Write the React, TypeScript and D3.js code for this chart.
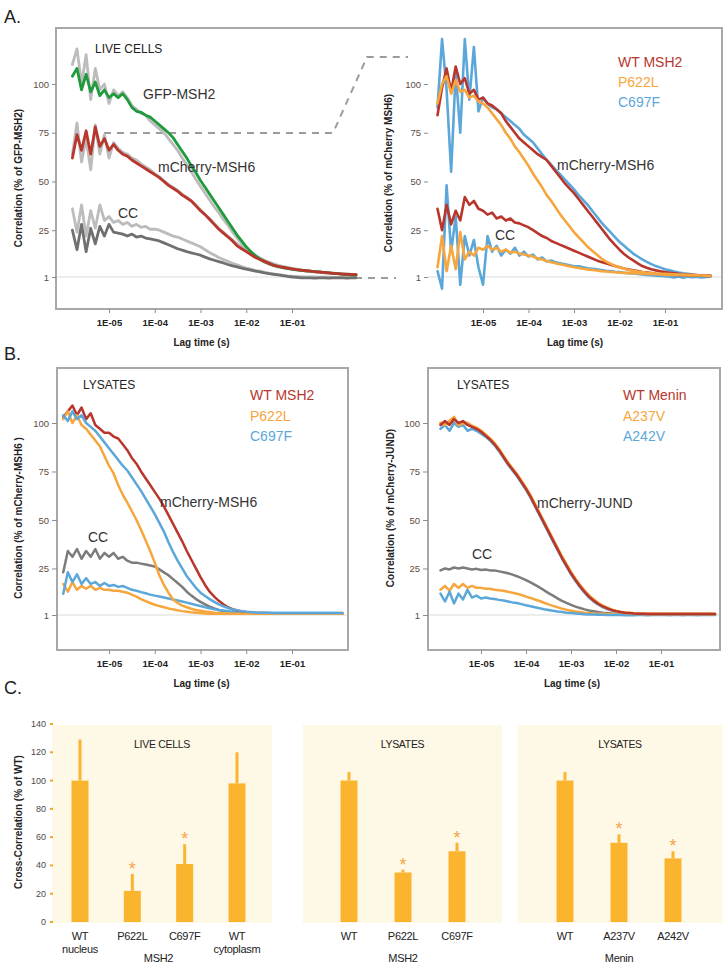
import { useEffect, useRef } from 'react';
import * as d3 from 'd3';

const NARROW = "'Liberation Sans Narrow', 'Liberation Sans', Arial, sans-serif";
const SANS = "'Liberation Sans', Arial, sans-serif";

const RED = '#b8362c';
const ORANGE = '#f6a63d';
const BLUE = '#5ca7da';
const GREEN = '#1f9a3d';
const DARK_GRAY = '#707070';
const LIGHT_GRAY = '#bcbcbc';
const BAR = '#fbb42e';
const STAR = '#f5a54a';

// correlator lag channels, log10(seconds)
const LAG_EXP = [
  -6.0, -5.9, -5.8, -5.7, -5.6, -5.5, -5.4, -5.3, -5.2, -5.1,
  -5.0, -4.9, -4.8, -4.7, -4.6, -4.5, -4.4, -4.3, -4.2, -4.1,
  -4.0, -3.9, -3.8, -3.7, -3.6, -3.5, -3.4, -3.3, -3.2, -3.1,
  -3.0, -2.9, -2.8, -2.7, -2.6, -2.5, -2.4, -2.3, -2.2, -2.1,
  -2.0, -1.9, -1.8, -1.7, -1.6, -1.5, -1.4, -1.3, -1.2, -1.1,
  -1.0, -0.9, -0.8, -0.7, -0.6, -0.5, -0.4, -0.3, -0.2, -0.1,
  0.0, 0.1, 0.2, 0.3, 0.4,
];
const LAG_TICKS = [1e-5, 1e-4, 1e-3, 1e-2, 1e-1];
const LAG_TICK_LABELS = ['1E-05', '1E-04', '1E-03', '1E-02', '1E-01'];
const CORR_TICKS = [1, 25, 50, 75, 100];

// A, live cells, overview (from 10^-5.8 s)
const GFP_MSH2_LIVE = [
  104, 108, 97, 105, 96, 101, 94, 97, 93, 95,
  93, 95, 92, 88, 86, 85.5, 84, 83, 81, 79,
  77, 75, 72.5, 69, 65.5, 62, 58, 54.5, 50.5, 47,
  43.5, 40, 36.5, 33, 29.5, 26, 22.5, 19.5, 16.5, 14,
  12, 10.2, 8.8, 7.8, 7, 6.3, 5.8, 5.4, 5, 4.7,
  4.4, 4.2, 4, 3.8, 3.6, 3.3, 3.1, 2.9, 2.7, 2.5,
  2.3, 2.1, 2,
];
const GFP_MSH2_LIVE_REP = [
  110, 118, 100, 115, 92, 108, 97, 100, 90, 97,
  94, 96, 93, 89, 87, 85, 84, 81, 79, 77,
  75, 72, 69, 66, 62, 58.5, 55, 51, 47.5, 44,
  40.5, 37, 34, 30.5, 27.5, 24, 21, 18, 15.5, 13.5,
  11.5, 10, 8.6, 7.6, 6.8, 6.2, 5.7, 5.3, 4.9, 4.6,
  4.3, 4.1, 3.9, 3.7, 3.5, 3.3, 3.1, 2.9, 2.7, 2.5,
  2.3, 2.1, 2,
];
const MSH6_LIVE = [
  62, 74, 66, 76, 64, 78, 68, 72, 66, 69,
  66, 64, 63, 61, 59.5, 58, 56.5, 55, 53.5, 52,
  50, 48, 46.5, 45, 43, 41.5, 40, 37.5, 35, 33,
  30.5, 28, 25.5, 23.5, 21.5, 19.5, 17, 15.5, 14, 12.5,
  11, 10, 9, 8, 7, 6.5, 6, 5.6, 5.2, 4.8,
  4.5, 4.2, 4, 3.7, 3.5, 3.3, 3.1, 2.9, 2.7, 2.5,
  2.4, 2.3, 2.2,
];
const MSH6_LIVE_REP = [
  64, 80, 60, 72, 56, 79, 64, 74, 62, 70,
  67, 65, 64, 62, 61, 59, 57.5, 56, 54, 52.5,
  50.5, 48.5, 47, 45.5, 43.5, 42, 40, 38, 35.5, 33,
  31, 28.5, 26, 24, 22, 20, 18, 16.5, 15, 13.5,
  12, 10.8, 9.6, 8.6, 7.8, 7, 6.4, 5.9, 5.4, 5,
  4.6, 4.3, 4, 3.8, 3.6, 3.4, 3.2, 3, 2.8, 2.6,
  2.4, 2.3, 2.2,
];
const CC_LIVE = [
  25, 15, 28, 14, 26, 18, 27, 22, 28, 24,
  23.5, 23, 22, 23, 21.5, 22, 21, 20.5, 20, 19.5,
  18.5, 17.5, 16.5, 15.5, 14.8, 14, 13.4, 12.8, 12.2, 11.2,
  10.3, 9.6, 8.9, 8.2, 7.4, 6.7, 6.2, 5.6, 5, 4.5,
  4, 3.6, 3.1, 2.7, 2.4, 2.1, 1.7, 1.3, 1, 0.8,
  0.6, 0.5, 0.6, 0.4, 0.5, 0.6, 0.4, 0.5, 0.6, 0.5,
  0.4, 0.5, 0.6,
];
const CC_LIVE_REP = [
  36, 24, 38, 22, 35, 26, 38, 30, 32, 29,
  30, 28, 29, 27, 28, 26.5, 27, 25.5, 25.5, 25,
  24, 23, 22, 21.5, 20.5, 19.5, 18.5, 17.5, 16.5, 15,
  13.5, 12.3, 11, 10, 9, 8, 7.2, 6.3, 5.6, 5,
  4.4, 4, 3.4, 3, 2.6, 2.2, 1.9, 1.6, 1.4, 1.3,
  1.2, 1.1, 1, 1, 0.9, 1, 0.9, 0.8, 0.9, 0.8,
  0.8, 0.9, 0.8,
];

// A, live cells, MSH2 variants (from 10^-6.0 s)
const MSH6_WT_LIVE = [
  84, 98, 108, 96, 109, 100, 103, 95, 97, 92,
  93, 90, 89, 87, 85, 81, 78, 75, 72, 70,
  68, 66, 64, 62.5, 61, 58, 55, 52, 49, 46.5,
  44, 41, 38, 35, 32, 29, 26, 23, 20, 17.5,
  15, 12.8, 11, 9.5, 8, 6.6, 5.7, 5, 4.4, 3.9,
  3.5, 3.2, 2.9, 2.6, 2.4, 2.3, 2.1, 2, 1.8, 1.7,
  1.6,
];
const MSH6_P622L_LIVE = [
  90, 100, 104, 95, 102, 96, 97, 93, 94, 91,
  90, 88, 85, 82, 79, 75, 72, 68, 65, 61.5,
  58, 54, 50.5, 47, 43, 40, 36.5, 33, 30, 27,
  24, 21.5, 19, 16.5, 14.5, 12.5, 10.5, 9, 7.8, 6.8,
  6, 5.2, 4.6, 4.2, 3.8, 3.5, 3.2, 3, 2.8, 2.7,
  2.6, 2.5, 2.4, 2.3, 2.2, 2.1, 2, 1.9, 1.8, 1.7,
  1.6,
];
const MSH6_C697F_LIVE = [
  88, 123, 97, 55, 106, 75, 123, 92, 119, 86,
  93, 90, 88, 87, 85, 83, 81, 79, 77, 74,
  72, 70, 67, 64, 61, 58.5, 56, 53.5, 51, 48.5,
  46, 43, 40.5, 38, 35, 32, 29, 26.5, 24, 21.5,
  19, 17, 15, 13, 11.5, 10, 8.8, 7.6, 6.6, 5.8,
  5, 4.4, 3.8, 3.3, 2.9, 2.6, 2.3, 2, 1.8, 1.7,
  1.6,
];
const CC_WT_LIVE = [
  36, 25, 38, 28, 35, 30, 42, 38, 40, 36,
  35, 33, 34, 31, 32, 30, 31, 29, 28.5, 27.5,
  26.5, 25, 23.5, 22, 21, 19.5, 18.5, 17.5, 16.5, 15.5,
  14.5, 13.5, 12.5, 11.5, 10.5, 9.5, 8.7, 8, 7.3, 6.6,
  6, 5.4, 4.9, 4.4, 4, 3.6, 3.3, 3, 2.7, 2.5,
  2.3, 2.2, 2.1, 2, 1.9, 1.8, 1.8, 1.7, 1.7, 1.6,
  1.6,
];
const CC_P622L_LIVE = [
  6, 22, 4, 17, 5, 24, 10, 14, 12, 16,
  15, 17, 15, 16, 14, 15, 13.5, 14, 13, 12.5,
  12, 11.5, 10.5, 10, 9.2, 8.6, 8, 7.5, 7, 6.5,
  6, 5.6, 5.2, 4.9, 4.6, 4.3, 4, 3.8, 3.6, 3.4,
  3.2, 3.1, 3, 2.9, 2.8, 2.7, 2.6, 2.5, 2.4, 2.3,
  2.2, 2.1, 2, 2, 1.9, 1.9, 1.8, 1.8, 1.7, 1.7,
  1.6,
];
const CC_C697F_LIVE = [
  4, -5, 48, 14, 32, -3, 22, 12, 20, 6,
  -3, 22, 14, 17, 12, 15, 13, 16, 12, 14,
  11.5, 12.5, 10, 11, 9, 9.5, 8.5, 8, 7.5, 7,
  6.5, 6.5, 6, 5.5, 5.2, 5, 4.6, 4.2, 4, 3.7,
  3.5, 3.2, 3, 2.8, 2.5, 2.3, 2.1, 1.9, 1.7, 1.6,
  1.4, 1.2, 0.8, 1.3, 0.6, 1.2, 0.9, 1.1, 0.7, 1,
  1.2,
];

// B, lysates, MSH2 variants (from 10^-6.0 s)
const MSH6_WT_LYS = [
  103, 106, 109, 104, 108, 102, 105, 99, 97, 95,
  95, 93, 92, 89, 86, 82, 79, 75, 71.5, 68,
  64.5, 61, 57, 52.5, 48, 43.5, 39, 34, 29.5, 25,
  20.5, 16.5, 13, 10.5, 8.3, 6.5, 5, 4, 3.3, 2.8,
  2.5, 2.3, 2.1, 2, 2, 1.9, 1.9, 1.9, 1.8, 1.8,
  1.8, 1.8, 1.8, 1.8, 1.8, 1.8, 1.8, 1.8, 1.8, 1.8,
  1.8, 1.8,
];
const MSH6_P622L_LYS = [
  102, 106, 100, 104, 99, 97, 94, 91, 88, 83,
  78, 74, 68, 63, 59, 54.5, 50, 45, 39.5, 34,
  28, 21.5, 16.5, 12.5, 9, 7.2, 5.8, 5, 4.2, 3.6,
  3.2, 2.8, 2.5, 2.2, 2, 1.9, 1.8, 1.7, 1.7, 1.6,
  1.6, 1.6, 1.6, 1.6, 1.6, 1.6, 1.6, 1.6, 1.6, 1.6,
  1.6, 1.6, 1.6, 1.6, 1.6, 1.6, 1.6, 1.6, 1.6, 1.6,
  1.6, 1.6,
];
const MSH6_C697F_LYS = [
  104, 101, 106, 102, 104, 100, 98, 96, 93, 90,
  87, 84, 81, 78, 75.5, 72, 68.5, 65, 61, 57,
  53, 48.5, 44, 38.5, 33.5, 29, 25, 21, 18, 15,
  12.5, 10.8, 9.2, 7.8, 6.5, 5.5, 4.6, 3.9, 3.4, 3,
  2.7, 2.5, 2.3, 2.2, 2.1, 2.1, 2, 2, 2, 2,
  2, 2, 2, 2, 2, 2, 2, 2, 2, 2,
  2, 2,
];
const CC_WT_LYS = [
  23, 34, 31, 35, 30, 34, 31, 35, 30, 33,
  31, 33, 30, 31, 29, 28, 28, 27.5, 27, 26.5,
  26, 24.5, 23, 21.5, 19.5, 17.5, 15.5, 13, 11, 9.2,
  7.8, 6.5, 5.3, 4.4, 3.6, 3, 2.6, 2.3, 2.1, 2,
  1.9, 1.9, 1.8, 1.8, 1.8, 1.8, 1.8, 1.8, 1.8, 1.8,
  1.8, 1.8, 1.8, 1.8, 1.8, 1.8, 1.8, 1.8, 1.8, 1.8,
  1.8, 1.8,
];
const CC_C697F_LYS = [
  12, 23, 18, 22, 17, 20, 17, 18, 16, 17.5,
  16, 16.5, 15.5, 16, 15, 14, 13.5, 12.8, 12.2, 11.5,
  11, 10.5, 10, 9.5, 9, 8.5, 8, 7.4, 6.8, 6.2,
  5.6, 5, 4.5, 4, 3.6, 3.3, 3, 2.7, 2.5, 2.3,
  2.2, 2.1, 2, 2, 2, 2, 2, 2, 2, 2,
  2, 2, 2, 2, 2, 2, 2, 2, 2, 2,
  2, 2,
];
const CC_P622L_LYS = [
  17, 13, 18, 14, 16, 14.5, 16, 14, 15, 14,
  14, 13.5, 13.5, 13, 12.5, 11.5, 10.5, 9.2, 8.2, 7.2,
  6.3, 5.6, 5, 4.4, 3.9, 3.4, 3, 2.7, 2.4, 2.2,
  2, 1.8, 1.7, 1.6, 1.6, 1.6, 1.6, 1.6, 1.6, 1.6,
  1.6, 1.6, 1.6, 1.6, 1.6, 1.6, 1.6, 1.6, 1.6, 1.6,
  1.6, 1.6, 1.6, 1.6, 1.6, 1.6, 1.6, 1.6, 1.6, 1.6,
  1.6, 1.6,
];

// B, lysates, Menin variants (from 10^-5.9 s)
const JUND_WT_LYS = [
  99, 101, 99, 102, 100, 101, 99, 98, 97, 95.5,
  93.5, 91.5, 89, 86, 82.5, 79, 76, 73, 69.5, 66,
  62, 57.5, 53, 48.5, 44, 39.5, 35, 30.5, 26.5, 22.5,
  19, 15.8, 13, 10.5, 8.5, 6.8, 5.5, 4.5, 3.6, 3,
  2.5, 2.2, 2, 1.8, 1.7, 1.6, 1.5, 1.5, 1.5, 1.5,
  1.5, 1.5, 1.5, 1.5, 1.5, 1.5, 1.5, 1.5, 1.5, 1.5,
  1.5, 1.5,
];
const JUND_A237V_LYS = [
  100, 99, 101, 103, 99, 100, 100, 98.5, 97.5, 96,
  94, 92, 89.5, 86.5, 83, 79.5, 76.5, 73.5, 70, 66.5,
  62.5, 58, 53.5, 49, 44.5, 40, 35.5, 31, 27, 23,
  19.5, 16.3, 13.5, 11, 9, 7.2, 5.8, 4.7, 3.8, 3.1,
  2.6, 2.2, 2, 1.8, 1.7, 1.6, 1.5, 1.5, 1.5, 1.5,
  1.5, 1.5, 1.5, 1.5, 1.5, 1.5, 1.5, 1.5, 1.5, 1.5,
  1.5, 1.5,
];
const JUND_A242V_LYS = [
  97, 99, 96, 100, 98, 99, 96, 97, 96, 94.5,
  93, 91, 88.5, 85.5, 82, 78.5, 75.5, 72.5, 69, 65.5,
  61.5, 57, 52.5, 48, 43.5, 39, 34.5, 30, 26, 22,
  18.5, 15.3, 12.5, 10, 8, 6.4, 5.1, 4.1, 3.3, 2.7,
  2.2, 1.9, 1.7, 1.5, 1.4, 1.3, 1.2, 1.2, 1.2, 1.1,
  1.1, 1.0, 1.2, 1.1, 1.0, 1.2, 1.1, 1.0, 1.1, 1.2,
  1.1, 1.1,
];
const CC_WT_MENIN = [
  24, 25, 24.5, 25.5, 25, 25.5, 25, 24.5, 24.8, 24.2,
  24.5, 24, 24, 23.5, 23, 22.5, 21.8, 21, 20, 19,
  17.8, 16.5, 15.2, 13.8, 12.3, 11, 9.6, 8.3, 7.2, 6.2,
  5.3, 4.6, 3.9, 3.3, 2.9, 2.5, 2.2, 2, 1.8, 1.7,
  1.6, 1.5, 1.5, 1.5, 1.5, 1.5, 1.5, 1.5, 1.5, 1.5,
  1.5, 1.5, 1.5, 1.5, 1.5, 1.5, 1.5, 1.5, 1.5, 1.5,
  1.5, 1.5,
];
const CC_A237V = [
  14, 16, 13.5, 17, 15, 17, 15, 16, 15, 15,
  14.5, 14.5, 14, 13.8, 13.5, 13, 12.5, 12, 11.3, 10.5,
  9.8, 9, 8.2, 7.3, 6.5, 5.7, 5, 4.3, 3.7, 3.2,
  2.8, 2.5, 2.2, 2, 1.8, 1.7, 1.6, 1.5, 1.5, 1.5,
  1.5, 1.5, 1.5, 1.5, 1.5, 1.5, 1.5, 1.5, 1.5, 1.5,
  1.5, 1.5, 1.5, 1.5, 1.5, 1.5, 1.5, 1.5, 1.5, 1.5,
  1.5, 1.5,
];
const CC_A242V = [
  12, 8, 13, 7, 12, 9, 14, 10, 11, 9.5,
  10, 9.5, 9.2, 8.8, 8.5, 8, 7.5, 7.2, 6.6, 6,
  5.5, 5, 4.5, 4, 3.6, 3.2, 2.8, 2.5, 2.2, 2,
  1.8, 1.6, 1.4, 1.3, 1.2, 1.1, 1.1, 1, 1, 1,
  1, 0.9, 1, 0.9, 1, 1, 0.9, 1, 1, 1,
  1, 1, 1, 1, 1, 1, 1, 1, 1, 1,
  1, 1,
];

// C, cross-correlation amplitudes (% of WT)
const C_TICKS = [0, 20, 40, 60, 80, 100, 120, 140];
const LIVE_LABELS = [['WT', 'nucleus'], ['P622L'], ['C697F'], ['WT', 'cytoplasm']];
const LIVE_VALUES = [100, 22, 41, 98];
const LIVE_ERRORS = [29, 12, 14, 22];
const LIVE_SIG = [false, true, true, false];
const MSH2_LYS_LABELS = [['WT'], ['P622L'], ['C697F']];
const MSH2_LYS_VALUES = [100, 35, 50];
const MSH2_LYS_ERRORS = [6, 2, 6];
const MSH2_LYS_SIG = [false, true, true];
const MENIN_LYS_LABELS = [['WT'], ['A237V'], ['A242V']];
const MENIN_LYS_VALUES = [100, 56, 45];
const MENIN_LYS_ERRORS = [6, 6, 5];
const MENIN_LYS_SIG = [false, true, true];

type Curve = { values: number[]; start: number; color: string; width?: number };
type Note = { text: string; x: number; y: number; color?: string; size?: number };
type CorrPlot = {
  xRange: [number, number];
  yRange: [number, number];
  axisX: number;
  tick: number;
  bottom: number;
  base: [number, number];
  yTitle: string;
  yTitleAt: [number, number];
  curves: Curve[];
  notes: Note[];
};

function lagPoints(values: number[], start: number): [number, number][] {
  const i0 = LAG_EXP.findIndex((e) => Math.abs(e - start) < 1e-6);
  const pts: [number, number][] = [];
  values.forEach((v, i) => {
    const e = LAG_EXP[i0 + i];
    if (e !== undefined) pts.push([Math.pow(10, e), v]);
  });
  return pts;
}

function drawCorr(root: any, p: CorrPlot) {
  const x = d3.scaleLog().domain([1e-5, 1e-1]).range(p.xRange);
  const y = d3.scaleLinear().domain([1, 100]).range(p.yRange);
  const g = root.append('g');

  g.append('line')
    .attr('x1', p.base[0]).attr('x2', p.base[1])
    .attr('y1', y(1)).attr('y2', y(1))
    .attr('stroke', '#dcdcdc').attr('stroke-width', 1.2);

  const ya = g.append('g')
    .attr('transform', `translate(${p.axisX},0)`)
    .call(d3.axisLeft(y).tickValues(CORR_TICKS).tickSize(p.tick).tickPadding(3));
  ya.select('.domain').remove();
  ya.selectAll('line').attr('stroke', '#8c8c8c');
  ya.selectAll('text')
    .attr('font-family', NARROW).attr('font-size', 9.5).attr('fill', '#5d4c46');

  const xa = g.append('g')
    .attr('transform', `translate(0,${p.bottom})`)
    .call(
      d3.axisBottom(x)
        .tickValues(LAG_TICKS)
        .tickFormat((_: any, i: number) => LAG_TICK_LABELS[i])
        .tickSize(4)
        .tickPadding(6)
    );
  xa.select('.domain').remove();
  xa.selectAll('line').attr('stroke', '#8c8c8c');
  xa.selectAll('text')
    .attr('font-family', NARROW).attr('font-size', 9.5)
    .attr('font-weight', 'bold').attr('fill', '#222');

  g.append('text')
    .attr('x', x(1e-3) + 1).attr('y', p.bottom + 37)
    .attr('text-anchor', 'middle')
    .attr('font-family', NARROW).attr('font-size', 10).attr('font-weight', 'bold')
    .attr('fill', '#222')
    .text('Lag time (s)');

  g.append('text')
    .attr('transform', `translate(${p.yTitleAt[0]},${p.yTitleAt[1]}) rotate(-90)`)
    .attr('text-anchor', 'middle')
    .attr('font-family', NARROW).attr('font-size', 10).attr('font-weight', 'bold')
    .attr('fill', '#222')
    .text(p.yTitle);

  const line = d3.line<[number, number]>().x((d) => x(d[0])).y((d) => y(d[1]));
  p.curves.forEach((c) => {
    g.append('path')
      .attr('d', line(lagPoints(c.values, c.start)))
      .attr('fill', 'none')
      .attr('stroke', c.color)
      .attr('stroke-width', c.width ?? 2.5)
      .attr('stroke-linejoin', 'round')
      .attr('stroke-linecap', 'round');
  });

  p.notes.forEach((n) => {
    g.append('text')
      .attr('x', n.x).attr('y', n.y)
      .attr('font-family', SANS).attr('font-size', n.size ?? 14)
      .attr('fill', n.color ?? '#333')
      .text(n.text);
  });
}

type BarGroup = {
  title: string;
  labels: string[][];
  values: number[];
  errors: number[];
  sig: boolean[];
  gene: string;
  geneIdx: number[];
  bg: [number, number];
  span: [number, number];
};

function drawBars(root: any) {
  const y = d3.scaleLinear().domain([0, 140]).range([922, 724]);
  const g = root.append('g');

  const groups: BarGroup[] = [
    { title: 'LIVE CELLS', labels: LIVE_LABELS, values: LIVE_VALUES, errors: LIVE_ERRORS, sig: LIVE_SIG, gene: 'MSH2', geneIdx: [1, 2], bg: [52, 272], span: [80, 237] },
    { title: 'LYSATES', labels: MSH2_LYS_LABELS, values: MSH2_LYS_VALUES, errors: MSH2_LYS_ERRORS, sig: MSH2_LYS_SIG, gene: 'MSH2', geneIdx: [1], bg: [303, 502], span: [349, 457] },
    { title: 'LYSATES', labels: MENIN_LYS_LABELS, values: MENIN_LYS_VALUES, errors: MENIN_LYS_ERRORS, sig: MENIN_LYS_SIG, gene: 'Menin', geneIdx: [1], bg: [517, 723], span: [565, 673] },
  ];

  groups.forEach((grp) => {
    g.append('rect')
      .attr('x', grp.bg[0]).attr('y', y(140) + 1)
      .attr('width', grp.bg[1] - grp.bg[0]).attr('height', y(0) - y(140))
      .attr('fill', '#fef8e7');

    g.append('text')
      .attr('x', (grp.bg[0] + grp.bg[1]) / 2).attr('y', 748)
      .attr('text-anchor', 'middle')
      .attr('font-family', SANS).attr('font-size', 10.5).attr('letter-spacing', -0.3)
      .attr('fill', '#222')
      .text(grp.title);

    const keys = grp.labels.map((l) => l.join(' '));
    const x = d3.scalePoint<string>().domain(keys).range(grp.span);
    const bw = 17;

    keys.forEach((k, i) => {
      const cx = x(k) as number;
      const v = grp.values[i];
      const top = y(v + grp.errors[i]);
      g.append('line')
        .attr('x1', cx).attr('x2', cx)
        .attr('y1', y(v)).attr('y2', top)
        .attr('stroke', BAR).attr('stroke-width', 3);
      g.append('rect')
        .attr('x', cx - bw / 2).attr('y', y(v))
        .attr('width', bw).attr('height', y(0) - y(v))
        .attr('fill', BAR);
      if (grp.sig[i]) {
        g.append('text')
          .attr('x', cx).attr('y', top + 1)
          .attr('text-anchor', 'middle')
          .attr('font-family', SANS).attr('font-size', 18)
          .attr('fill', STAR)
          .text('*');
      }
      grp.labels[i].forEach((t, j) => {
        g.append('text')
          .attr('x', cx).attr('y', 940 + j * 13)
          .attr('text-anchor', 'middle')
          .attr('font-family', SANS).attr('font-size', 11)
          .attr('letter-spacing', -0.3)
          .attr('fill', '#222')
          .text(t);
      });
    });

    const gx = d3.mean(grp.geneIdx, (i) => x(keys[i]) as number) as number;
    g.append('text')
      .attr('x', gx).attr('y', 962)
      .attr('text-anchor', 'middle')
      .attr('font-family', SANS).attr('font-size', 11)
      .attr('letter-spacing', -0.3)
      .attr('fill', '#222')
      .text(grp.gene);
  });

  // y axis
  const ax = g.append('g');
  C_TICKS.forEach((t) => {
    ax.append('rect')
      .attr('x', 50).attr('y', y(t) - 1)
      .attr('width', 3).attr('height', 2)
      .attr('fill', '#f5a623');
    ax.append('text')
      .attr('x', 46).attr('y', y(t))
      .attr('dy', '0.34em')
      .attr('text-anchor', 'end')
      .attr('font-family', NARROW).attr('font-size', 9)
      .attr('fill', '#4a4a4a')
      .text(t);
  });
  ax.append('text')
    .attr('transform', `translate(22,${822}) rotate(-90)`)
    .attr('text-anchor', 'middle')
    .attr('font-family', NARROW).attr('font-size', 10).attr('font-weight', 'bold')
    .attr('fill', '#222')
    .text('Cross-Correlation (% of WT)');
}

export default function App() {
  const ref = useRef<SVGSVGElement>(null);

  useEffect(() => {
    const svg = d3.select(ref.current);
    svg.selectAll('*').remove();

    // panel letters
    [['A.', 23], ['B.', 360], ['C.', 694]].forEach(([t, yy]) => {
      svg.append('text')
        .attr('x', 4).attr('y', yy as number)
        .attr('font-family', SANS).attr('font-size', 18)
        .attr('fill', '#222')
        .text(t as string);
    });

    // frames
    const frames = [
      [56, 28, 666, 281],
      [57, 368, 291, 282],
      [428, 368, 292, 282],
    ];
    frames.forEach(([fx, fy, fw, fh]) => {
      svg.append('rect')
        .attr('x', fx).attr('y', fy).attr('width', fw).attr('height', fh)
        .attr('fill', 'none').attr('stroke', '#a8a8a8').attr('stroke-width', 2);
    });

    const A_Y: [number, number] = [277, 84];
    const B_Y: [number, number] = [615, 423];

    // zoom guide between the two live-cell plots
    const guide = svg.append('g')
      .attr('fill', 'none').attr('stroke', '#9c9c9c')
      .attr('stroke-width', 2).attr('stroke-dasharray', '7,6');
    guide.append('path').attr('d', 'M104,133 L333,133 L367,57 L408,57');
    guide.append('path').attr('d', 'M355,278 L396,278');

    drawCorr(svg, {
      xRange: [109, 292], yRange: A_Y, axisX: 56, tick: 4, bottom: 309,
      base: [57, 355],
      yTitle: 'Correlation (% of GFP-MSH2)', yTitleAt: [22, 178],
      curves: [
        { values: CC_LIVE_REP, start: -5.8, color: LIGHT_GRAY, width: 2.8 },
        { values: GFP_MSH2_LIVE_REP, start: -5.8, color: LIGHT_GRAY, width: 2.8 },
        { values: MSH6_LIVE_REP, start: -5.8, color: LIGHT_GRAY, width: 2.8 },
        { values: CC_LIVE, start: -5.8, color: DARK_GRAY, width: 2.8 },
        { values: GFP_MSH2_LIVE, start: -5.8, color: GREEN, width: 2.8 },
        { values: MSH6_LIVE, start: -5.8, color: RED, width: 2.8 },
      ],
      notes: [
        { text: 'LIVE CELLS', x: 95, y: 53, size: 12, color: '#222' },
        { text: 'GFP-MSH2', x: 143, y: 99 },
        { text: 'mCherry-MSH6', x: 158, y: 172 },
        { text: 'CC', x: 118, y: 218 },
      ],
    });

    drawCorr(svg, {
      xRange: [483, 665], yRange: A_Y, axisX: 428, tick: 4, bottom: 309,
      base: [428, 721],
      yTitle: 'Correlation (% of mCherry MSH6)', yTitleAt: [392, 173],
      curves: [
        { values: CC_C697F_LIVE, start: -6.0, color: BLUE, width: 2.6 },
        { values: CC_WT_LIVE, start: -6.0, color: RED, width: 2.6 },
        { values: CC_P622L_LIVE, start: -6.0, color: ORANGE, width: 2.6 },
        { values: MSH6_C697F_LIVE, start: -6.0, color: BLUE, width: 2.6 },
        { values: MSH6_WT_LIVE, start: -6.0, color: RED, width: 2.6 },
        { values: MSH6_P622L_LIVE, start: -6.0, color: ORANGE, width: 2.6 },
      ],
      notes: [
        { text: 'WT MSH2', x: 618, y: 67, color: RED },
        { text: 'P622L', x: 618, y: 87, color: ORANGE },
        { text: 'C697F', x: 618, y: 107, color: BLUE },
        { text: 'mCherry-MSH6', x: 557, y: 170 },
        { text: 'CC', x: 495, y: 240 },
      ],
    });

    drawCorr(svg, {
      xRange: [109, 292], yRange: B_Y, axisX: 57, tick: 5, bottom: 650,
      base: [58, 347],
      yTitle: 'Correlation (% of mCherry-MSH6 )', yTitleAt: [22, 518],
      curves: [
        { values: CC_WT_LYS, start: -6.0, color: '#7c7c7c' },
        { values: CC_P622L_LYS, start: -6.0, color: ORANGE },
        { values: CC_C697F_LYS, start: -6.0, color: BLUE },
        { values: MSH6_WT_LYS, start: -6.0, color: RED },
        { values: MSH6_P622L_LYS, start: -6.0, color: ORANGE },
        { values: MSH6_C697F_LYS, start: -6.0, color: BLUE },
      ],
      notes: [
        { text: 'LYSATES', x: 83, y: 389, size: 12, color: '#222' },
        { text: 'WT MSH2', x: 250, y: 400, color: RED },
        { text: 'P622L', x: 250, y: 421, color: ORANGE },
        { text: 'C697F', x: 250, y: 441, color: BLUE },
        { text: 'mCherry-MSH6', x: 160, y: 507 },
        { text: 'CC', x: 88, y: 542 },
      ],
    });

    drawCorr(svg, {
      xRange: [481, 661], yRange: B_Y, axisX: 428, tick: 5, bottom: 650,
      base: [429, 719],
      yTitle: 'Correlation (% of mCherry-JUND)', yTitleAt: [394, 508],
      curves: [
        { values: CC_WT_MENIN, start: -5.9, color: '#7c7c7c' },
        { values: CC_A237V, start: -5.9, color: ORANGE },
        { values: CC_A242V, start: -5.9, color: BLUE },
        { values: JUND_A242V_LYS, start: -5.9, color: BLUE },
        { values: JUND_A237V_LYS, start: -5.9, color: ORANGE, width: 3 },
        { values: JUND_WT_LYS, start: -5.9, color: RED },
      ],
      notes: [
        { text: 'LYSATES', x: 457, y: 389, size: 12, color: '#222' },
        { text: 'WT Menin', x: 623, y: 400, color: RED },
        { text: 'A237V', x: 623, y: 421, color: ORANGE },
        { text: 'A242V', x: 623, y: 441, color: BLUE },
        { text: 'mCherry-JUND', x: 537, y: 508 },
        { text: 'CC', x: 472, y: 559 },
      ],
    });

    drawBars(svg);
  }, []);

  return (
    <div style={{ position: 'absolute', left: 0, top: 0 }}>
      <svg ref={ref} width={726} height={970} style={{ display: 'block', background: '#fff' }} />
    </div>
  );
}
